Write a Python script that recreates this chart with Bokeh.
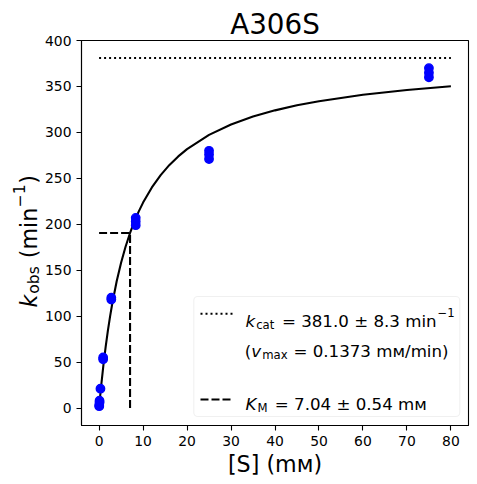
import math
from bokeh.plotting import figure
from bokeh.layouts import row
from bokeh.models import Label, BoxAnnotation, FixedTicker, Range1d
from bokeh.embed import file_html
from bokeh.resources import INLINE

# ---------------- data ----------------
title_text = "A306S"
S_points = [75, 75, 75, 25, 25, 25, 8.33, 8.33, 8.33, 2.78, 2.78,
            0.926, 0.926, 0.309, 0.103, 0.103, 0.034, 0.034]
k_points = [360, 365, 370, 271, 276, 280, 199, 203, 207, 118, 120,
            53, 55, 21, 6, 8, 2, 3]
fit_S = [0, 0.25, 0.5, 1, 1.5, 2, 2.5, 3, 4, 5, 6, 7, 8, 9, 10, 12, 14, 16,
         18, 20, 25, 30, 35, 40, 45, 50, 60, 70, 80]
fit_k = [0, 13.1, 25.3, 47.4, 66.9, 84.3, 99.8, 113.8, 138.0, 158.2, 175.3,
         190.0, 202.7, 213.8, 223.6, 240.1, 253.5, 264.6, 273.9, 281.8,
         297.3, 308.6, 317.2, 324.0, 329.5, 334.0, 341.0, 346.2, 350.2]
kcat = 381.0
km = 7.04
half_kcat = 190.5
s_start = 0
s_end = 80
x_ticks = [0, 10, 20, 30, 40, 50, 60, 70, 80]
y_ticks = [0, 50, 100, 150, 200, 250, 300, 350, 400]
x_label = "[S] (mᴍ)"
legend_row1 = ["k", "cat", " = 381.0 ± 8.3 min", "−1"]
legend_row2 = ["(", "v", "max", " = 0.1373 mᴍ/min)"]
legend_row4 = ["K", "M", " = 7.04 ± 0.54 mᴍ"]
y_label = ["k", "obs", " (min", "−1", ")"]

# ---------------- layout (page pixels) ----------------
LW = 40                       # width of the strip holding the y label
FL, FT, FW, FH = 81, 40, 387, 385
TOTAL_W, H = 477, 484
X0, X1 = -4.0, 84.0
Y0, Y1 = -19.05, 400.05
FONT = "DejaVu Sans"

W = {' ': 0.318, '(': 0.390, ')': 0.390, '[': 0.390, ']': 0.390, '.': 0.318,
     '/': 0.337, '=': 0.838, '±': 0.838, '−': 0.838, 'S': 0.635, 'a': 0.613,
     'b': 0.635, 'c': 0.550, 'i': 0.278, 'm': 0.974, 'n': 0.634, 'o': 0.612,
     's': 0.521, 't': 0.392, 'x': 0.592, 'M': 0.863, 'K': 0.656, 'k': 0.579,
     'v': 0.592, 'ᴍ': 0.75}
for d in "0123456789":
    W[d] = 0.636


def tw(s, size):
    return sum(W.get(c, 0.6) for c in s) * size


def dx(px):
    return X0 + (px - FL) / FW * (X1 - X0)


def dy(py):
    return Y1 - (py - FT) / FH * (Y1 - Y0)


p = figure(frame_width=FW, frame_height=FH,
           x_range=Range1d(X0, X1), y_range=Range1d(Y0, Y1),
           output_backend="svg", toolbar_location=None,
           min_border_left=FL - LW, min_border_right=TOTAL_W - FL - FW,
           min_border_top=FT, min_border_bottom=H - FT - FH,
           title=title_text)
p.title.text_font = FONT
p.title.text_font_size = "27.8px"
p.title.text_font_style = "normal"
p.title.text_color = "black"
p.title.align = "center"
p.title.standoff = 0
p.background_fill_color = "white"
p.border_fill_color = "white"
p.outline_line_color = "black"
p.outline_line_width = 1.1
p.outline_line_alpha = 1.0
p.xgrid.visible = False
p.ygrid.visible = False

for ax, ticks in ((p.xaxis, x_ticks), (p.yaxis, y_ticks)):
    ax.ticker = FixedTicker(ticks=ticks)
    ax.minor_tick_line_color = None
    ax.major_tick_in = 0
    ax.major_tick_out = 5
    ax.major_tick_line_width = 1.1
    ax.major_tick_line_color = "black"
    ax.axis_line_color = "black"
    ax.axis_line_width = 1.1
    ax.major_label_text_font = FONT
    ax.major_label_text_font_size = "13.9px"
    ax.major_label_text_color = "black"
    ax.major_label_standoff = 5

p.xaxis.axis_label = x_label
p.xaxis.axis_label_text_font = FONT
p.xaxis.axis_label_text_font_size = "22.2px"
p.xaxis.axis_label_text_font_style = "normal"
p.xaxis.axis_label_text_color = "black"
p.xaxis.axis_label_standoff = 2

# ---------------- marks ----------------
p.line(fit_S, fit_k, line_color="black", line_width=2.1)
p.line([s_start, s_end], [kcat, kcat], line_color="black", line_width=2.1,
       line_dash="2 3")
p.line([s_start, km], [half_kcat, half_kcat], line_color="black",
       line_width=2.1, line_dash="8 3")
p.line([km, km], [0, half_kcat], line_color="black", line_width=2.1,
       line_dash="8 3")
p.scatter(S_points, k_points, size=8.4, fill_color="blue", line_color="blue",
          line_width=1.4)


def label(fig, text, x, y, size, style="normal", angle=0.0):
    fig.add_layout(Label(x=x, y=y, text=text, text_font=FONT,
                         text_font_size=f"{size}px", text_font_style=style,
                         text_color="black", text_align="left",
                         text_baseline="alphabetic", angle=angle,
                         level="overlay"))


def putm(text, px, py, size, style="normal"):
    # leading blanks are collapsed by SVG: move the anchor instead (pixels)
    n = len(text) - len(text.lstrip(" "))
    px += n * W[' '] * size
    label(p, text.lstrip(" "), dx(px), dy(py), size, style)


# ---------------- y label strip (frame aligned with main frame) ----------------
q = figure(frame_width=LW, frame_height=FH, x_range=Range1d(0, LW),
           y_range=Range1d(FT + FH, FT), output_backend="svg",
           toolbar_location=None, min_border=0,
           x_axis_type=None, y_axis_type=None)
q.outline_line_color = None
q.background_fill_color = "white"
q.border_fill_color = "white"
q.xgrid.visible = False
q.ygrid.visible = False


def putq(text, px, py, size, style="normal"):
    n = len(text) - len(text.lstrip(" "))
    py -= n * W[' '] * size
    label(q, text.lstrip(" "), px, py, size, style, angle=math.pi / 2)


big, small = 22.2, 15.5
bx = 28.5
yy = 307.0
putq(y_label[0], bx, yy, big, "italic")
yy -= tw(y_label[0], big) + 1.0
putq(y_label[1], bx + 5.0, yy, small)
yy -= tw(y_label[1], small) + 1.0
putq(y_label[2], bx, yy, big)
yy -= tw(y_label[2], big) + 0.5
putq(y_label[3], bx - 10.5, yy, small)
yy -= tw(y_label[3], small) + 0.5
putq(y_label[4], bx, yy, big)

# ---------------- legend ----------------
box = BoxAnnotation(left=dx(193.3), right=dx(459.3), top=dy(296),
                    bottom=dy(416), fill_color="white", fill_alpha=0.8,
                    line_color="#cccccc", line_width=1.1, border_radius=4,
                    level="annotation")
p.add_layout(box)

p.line([dx(200), dx(233)], [dy(313.3), dy(313.3)], line_color="black",
       line_width=2.1, line_dash="2 3", level="overlay")
p.line([dx(200), dx(233)], [dy(399), dy(399)], line_color="black",
       line_width=2.1, line_dash="8 3", level="overlay")

L, Ls = 16.67, 11.67
tx = 245.0
# row 1
b1 = 320.5
x = tx
putm(legend_row1[0], x, b1, L, "italic")
x += tw(legend_row1[0], L) + 1.0
putm(legend_row1[1], x, b1 + 3.5, Ls)
x += tw(legend_row1[1], Ls) + 2.3
putm(legend_row1[2], x, b1, L)
x += tw(legend_row1[2], L) + 0.7
putm(legend_row1[3], x, b1 - 8.8, Ls)
# row 2
b2 = 351.0
x = tx - 0.7
putm(legend_row2[0], x, b2, L)
x += tw(legend_row2[0], L)
putm(legend_row2[1], x, b2, L, "italic")
x += tw(legend_row2[1], L) + 1.0
putm(legend_row2[2], x, b2 + 3.5, Ls)
x += tw(legend_row2[2], Ls) + 0.5
putm(legend_row2[3], x, b2, L)
# row 4
b4 = 404.3
x = tx
putm(legend_row4[0], x, b4, L, "italic")
x += tw(legend_row4[0], L) + 1.0
putm(legend_row4[1], x, b4 + 3.5, Ls)
x += tw(legend_row4[1], Ls) + 2.0
putm(legend_row4[2], x, b4, L)

layout = row(q, p, spacing=0)
open("out.html", "w").write(file_html(layout, INLINE))
